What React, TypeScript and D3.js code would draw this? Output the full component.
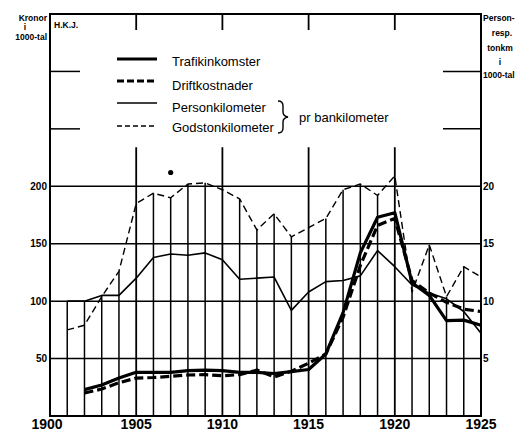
import React, { useEffect, useRef } from 'react'
import * as d3 from 'd3'

// Trafikinkomster / Driftkostnader, kronor i 1000-tal per bankilometer (1902-1925)
const moneyYears = d3.range(1902, 1926)
const trafikinkomster = [23, 27, 33, 38, 38, 38, 39.5, 40, 39.5, 38, 38, 37, 38.6, 40.5, 54, 90, 142, 173, 177, 116, 105, 83, 83.5, 79]
const driftkostnader = [20, 23.5, 29, 33, 33.5, 34.5, 35.7, 36, 35, 36, 40, 34, 39, 46, 54, 86, 131, 166, 172, 118, 107, 99, 93, 91]

// Person- resp. tonkm i 1000-tal per bankilometer (1901-1925), right axis
const kmYears = d3.range(1901, 1926)
const personkilometer = [10.0, 10.0, 10.5, 10.5, 12.0, 13.8, 14.1, 14.0, 14.2, 13.6, 11.9, 12.0, 12.1, 9.2, 10.8, 11.7, 11.8, 12.2, 14.4, 13.0, 11.4, 10.7, 10.2, 9.1, 7.2]
const godstonkilometer = [7.5, 7.9, 10.4, 12.6, 18.5, 19.4, 19.0, 20.2, 20.3, 19.7, 18.9, 16.2, 17.6, 15.6, 16.4, 17.2, 19.7, 20.2, 19.2, 20.9, 10.8, 14.9, 10.4, 13.0, 12.1]

const leftTicks = [50, 100, 150, 200]
const rightTicks = [5, 10, 15, 20]
const shortTicks = [250, 300]
const yearLabels = [1900, 1905, 1910, 1915, 1920, 1925]
const majorYears = [1905, 1910, 1915, 1920]
const strayDot = { year: 1907, value: 212 }

const W = 526
const H = 431
const FONT = '"Liberation Sans", Arial, sans-serif'

export default function App() {
  const ref = useRef<SVGSVGElement>(null)

  useEffect(() => {
    const svg = d3.select(ref.current)
    svg.selectAll('*').remove()

    const x = d3.scaleLinear().domain([1900, 1925]).range([50, 481])
    const y = d3.scaleLinear().domain([0, 350]).range([416, 14])
    const yR = d3.scaleLinear().domain([0, 35]).range([416, 14])
    const left = x.range()[0], right = x.range()[1]
    const top = y.range()[1], bottom = y.range()[0]

    const g = svg.append('g')

    // vertical year lines, from the bottom up to the highest curve
    const maxAt = (yr: number) => {
      const vals: number[] = []
      const i = moneyYears.indexOf(yr)
      if (i >= 0) vals.push(trafikinkomster[i], driftkostnader[i])
      const j = kmYears.indexOf(yr)
      if (j >= 0) vals.push(personkilometer[j] * 10, godstonkilometer[j] * 10)
      return d3.max(vals) ?? 0
    }
    const minorYears = d3.range(1901, 1925).filter(yr => !majorYears.includes(yr))
    g.selectAll('line.yr')
      .data(minorYears)
      .join('line')
      .attr('x1', d => x(d)).attr('x2', d => x(d))
      .attr('y1', bottom).attr('y2', d => y(maxAt(d)))
      .attr('stroke', '#000').attr('stroke-width', 1.5)

    // 5-year lines: top tick and a long line from ~234 down
    g.selectAll('line.maj')
      .data(majorYears)
      .join('line')
      .attr('x1', d => x(d)).attr('x2', d => x(d))
      .attr('y1', bottom).attr('y2', y(234))
      .attr('stroke', '#000').attr('stroke-width', 1.8)
    g.selectAll('line.majtop')
      .data(majorYears)
      .join('line')
      .attr('x1', d => x(d)).attr('x2', d => x(d))
      .attr('y1', top).attr('y2', top + 16)
      .attr('stroke', '#000').attr('stroke-width', 1.8)

    // horizontal grid
    g.selectAll('line.grid')
      .data(leftTicks)
      .join('line')
      .attr('x1', left).attr('x2', right)
      .attr('y1', d => y(d)).attr('y2', d => y(d))
      .attr('stroke', '#000').attr('stroke-width', 1.5)

    // short side ticks at 250/300
    shortTicks.forEach(v => {
      g.append('line').attr('x1', left).attr('x2', left + 30)
        .attr('y1', y(v)).attr('y2', y(v)).attr('stroke', '#000').attr('stroke-width', 1.5)
      g.append('line').attr('x1', right - 38).attr('x2', right)
        .attr('y1', y(v)).attr('y2', y(v)).attr('stroke', '#000').attr('stroke-width', 1.5)
    })

    // frame
    g.append('rect')
      .attr('x', left).attr('y', top)
      .attr('width', right - left).attr('height', bottom - top)
      .attr('fill', 'none').attr('stroke', '#000').attr('stroke-width', 2)

    // series
    const line = d3.line<[number, number]>().x(d => x(d[0])).y(d => d[1])
    const series = [
      { pts: moneyYears.map((yr, i) => [yr, y(trafikinkomster[i])] as [number, number]), w: 3.2, dash: null },
      { pts: moneyYears.map((yr, i) => [yr, y(driftkostnader[i])] as [number, number]), w: 3.2, dash: '9,4' },
      { pts: kmYears.map((yr, i) => [yr, yR(personkilometer[i])] as [number, number]), w: 1.6, dash: null },
      { pts: kmYears.map((yr, i) => [yr, yR(godstonkilometer[i])] as [number, number]), w: 1.4, dash: '7,4' },
    ]
    series.forEach(s => {
      g.append('path')
        .attr('d', line(s.pts))
        .attr('fill', 'none').attr('stroke', '#000')
        .attr('stroke-width', s.w)
        .attr('stroke-linejoin', 'round')
        .attr('stroke-dasharray', s.dash)
    })

    g.append('circle').attr('cx', x(strayDot.year)).attr('cy', y(strayDot.value))
      .attr('r', 2.6).attr('fill', '#000')

    // axis labels
    g.selectAll('text.lt')
      .data(leftTicks)
      .join('text')
      .attr('x', left - 3).attr('y', d => y(d)).attr('dy', '0.35em')
      .attr('text-anchor', 'end')
      .attr('font-family', FONT).attr('font-size', 10).attr('font-weight', 'bold')
      .text(d => d)
    g.selectAll('text.rt')
      .data(rightTicks)
      .join('text')
      .attr('x', right + 2).attr('y', d => yR(d)).attr('dy', '0.35em')
      .attr('font-family', FONT).attr('font-size', 10).attr('font-weight', 'bold')
      .text(d => d)
    g.selectAll('text.yr')
      .data(yearLabels)
      .join('text')
      .attr('x', d => x(d) - (d === 1900 ? 3 : 0)).attr('y', 429)
      .attr('text-anchor', 'middle')
      .attr('font-family', FONT).attr('font-size', 14).attr('font-weight', 'bold')
      .text(d => d)

    // unit labels
    const small = (t: string, tx: number, ty: number, anchor: string) =>
      g.append('text').attr('x', tx).attr('y', ty).attr('text-anchor', anchor)
        .attr('font-family', FONT).attr('font-size', 8.5).attr('font-weight', 'bold').text(t)
    small('Kronor', 47, 21, 'end')
    small('i', 25, 30, 'middle')
    small('1000-tal', 47, 40, 'end')
    small('H.K.J.', 54, 28, 'start')
    small('Person-', 483, 21, 'start')
    small('resp.', 502, 36, 'middle')
    small('tonkm', 500, 51, 'middle')
    small('i', 500, 65, 'middle')
    small('1000-tal', 483, 78, 'start')

    // legend
    const legend = [
      { label: 'Trafikinkomster', ly: 59, ty: 61, w: 3.2, dash: null },
      { label: 'Driftkostnader', ly: 81, ty: 85, w: 3.2, dash: '7,3' },
      { label: 'Personkilometer', ly: 103, ty: 107, w: 1.6, dash: null },
      { label: 'Godstonkilometer', ly: 126, ty: 127, w: 1.4, dash: '5,3' },
    ]
    legend.forEach(l => {
      g.append('line').attr('x1', 117).attr('x2', 157)
        .attr('y1', l.ly).attr('y2', l.ly)
        .attr('stroke', '#000').attr('stroke-width', l.w).attr('stroke-dasharray', l.dash)
      g.append('text').attr('x', 172).attr('y', l.ty).attr('dy', '0.35em')
        .attr('font-family', FONT).attr('font-size', 13).text(l.label)
    })
    g.append('path')
      .attr('d', 'M278,101 Q283,101 283,106 L283,112 Q283,116 288,117 Q283,118 283,122 L283,128 Q283,133 278,133')
      .attr('fill', 'none').attr('stroke', '#000').attr('stroke-width', 1.4)
    g.append('text').attr('x', 299).attr('y', 117).attr('dy', '0.35em')
      .attr('font-family', FONT).attr('font-size', 13).text('pr bankilometer')
  }, [])

  return (
    <svg ref={ref} width={W} height={H}
      style={{ position: 'absolute', left: 0, top: 0, background: '#fff' }} />
  )
}
